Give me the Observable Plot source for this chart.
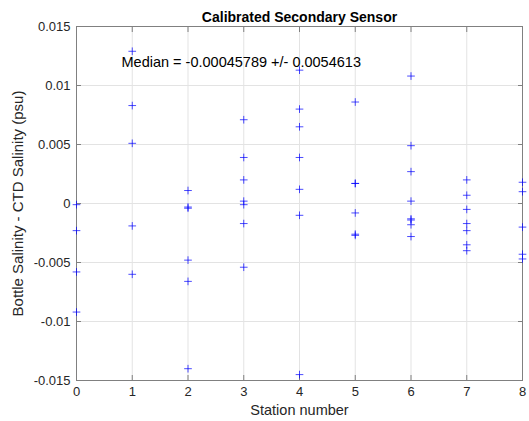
<!DOCTYPE html>
<html><head><meta charset="utf-8">
<script src="https://cdn.jsdelivr.net/npm/d3@7"></script>
<script src="https://cdn.jsdelivr.net/npm/@observablehq/plot@0.6"></script>
<style>body{margin:0;background:#fff} svg{display:block}</style>
</head><body><div id="chart"></div>
<script>
// Bottle salinity minus CTD salinity (psu) per station
const s0 = [-0.0001, -0.0023, -0.0058, -0.0092];
const s1 = [0.0129, 0.0083, 0.0051, -0.0019, -0.0060];
const s2 = [0.0011, -0.0003, -0.0004, -0.0048, -0.0066, -0.0140];
const s3 = [0.0071, 0.0039, 0.0020, 0.0002, -0.0001, -0.0017, -0.0054];
const s4 = [0.0113, 0.0080, 0.0065, 0.0039, 0.0012, -0.0010, -0.0145];
const s5 = [0.0086, 0.0017, 0.0017, -0.0008, -0.0026, -0.0027];
const s6 = [0.0108, 0.0049, 0.0027, 0.0002, -0.0013, -0.0014, -0.0018, -0.0028];
const s7 = [0.0020, 0.0007, -0.0005, -0.0017, -0.0023, -0.0035, -0.0040];
const s8 = [0.0018, 0.0010, -0.0020, -0.0043, -0.0047];
const stationValues = [s0, s1, s2, s3, s4, s5, s6, s7, s8];

const xTicks = [0, 1, 2, 3, 4, 5, 6, 7, 8];
const yTicks = [-0.015, -0.01, -0.005, 0, 0.005, 0.01, 0.015];
const yTickLabels = ["-0.015", "-0.01", "-0.005", "0", "0.005", "0.01", "0.015"];

const titleText = "Calibrated Secondary Sensor";
const medianText = "Median = -0.00045789 +/- 0.0054613";
const xLabel = "Station number";
const yLabel = "Bottle Salinity - CTD Salinity (psu)";

const data = stationValues.flatMap((vals, i) => vals.map(v => ({station: xTicks[i], diff: v})));
const yFmt = d => yTickLabels[yTicks.indexOf(d)] ?? String(d);

const axisGray = "#808080";
const chart = Plot.plot({
  width: 529, height: 421,
  marginLeft: 76, marginRight: 7, marginTop: 26, marginBottom: 41,
  style: {fontFamily: "'Liberation Sans', Arial, sans-serif", fontSize: "13px", color: "#262626", background: "#fff", overflow: "visible"},
  x: {domain: [0, 8], label: null},
  y: {domain: [-0.015, 0.015], label: null},
  marks: [
    Plot.gridX(xTicks, {stroke: "#e3e3e3", strokeOpacity: 1}),
    Plot.gridY(yTicks, {stroke: "#e3e3e3", strokeOpacity: 1}),
    Plot.axisX(xTicks, {anchor: "bottom", tickSize: 0, tickPadding: 6, tickFormat: d => String(d), fill: "#262626", label: null}),
    Plot.axisY(yTicks, {anchor: "left", tickSize: 0, tickPadding: 6, tickFormat: yFmt, fill: "#262626", label: null}),
    Plot.axisX(xTicks, {anchor: "bottom", tickSize: -5, fill: "none", stroke: axisGray, label: null}),
    Plot.axisX(xTicks, {anchor: "top", tickSize: -5, fill: "none", stroke: axisGray, label: null}),
    Plot.axisY(yTicks, {anchor: "left", tickSize: -5, fill: "none", stroke: axisGray, label: null}),
    Plot.axisY(yTicks, {anchor: "right", tickSize: -5, fill: "none", stroke: axisGray, label: null}),
    Plot.frame({stroke: axisGray}),
    Plot.dot(data, {x: "station", y: "diff", symbol: "plus", r: 2.6, stroke: "#0000ff", strokeOpacity: 0.7, strokeWidth: 1}),
    Plot.text([titleText], {frameAnchor: "top", dy: -9, lineAnchor: "middle", fontWeight: "bold", fontSize: 14, fill: "#000"}),
    Plot.text([medianText], {frameAnchor: "top-left", dx: 45, dy: 36, textAnchor: "start", lineAnchor: "middle", fontSize: 14.5, fill: "#000"}),
    Plot.text([xLabel], {frameAnchor: "bottom", dy: 30, lineAnchor: "middle", fontSize: 14.5, fill: "#262626"}),
    Plot.text([yLabel], {frameAnchor: "left", dx: -58, rotate: -90, textAnchor: "middle", lineAnchor: "middle", fontSize: 15, fill: "#262626"})
  ]
});
document.getElementById("chart").appendChild(chart);
</script>
</body></html>
